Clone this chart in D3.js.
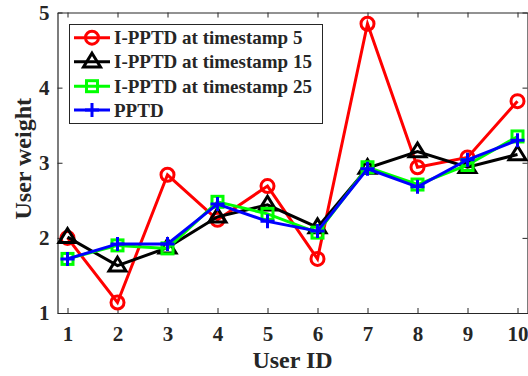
<!DOCTYPE html>
<html>
<head>
<meta charset="utf-8">
<script src="https://cdn.jsdelivr.net/npm/d3@7"></script>
<style>
  html, body { margin: 0; padding: 0; background: #fff; }
  svg { display: block; }
  text { font-family: "Liberation Serif", "Times New Roman", serif; font-weight: bold; fill: #262626; }
</style>
</head>
<body>
<svg id="chart" width="528" height="376"></svg>
<script>
// User IDs along the x axis
const userIds = [1, 2, 3, 4, 5, 6, 7, 8, 9, 10];

// Weight of each user for each method
const ipptd5  = [2.00, 1.14, 2.84, 2.24, 2.69, 1.72, 4.85, 2.94, 3.07, 3.82];
const ipptd15 = [2.01, 1.63, 1.87, 2.28, 2.44, 2.14, 2.93, 3.15, 2.94, 3.11];
const ipptd25 = [1.72, 1.90, 1.86, 2.48, 2.32, 2.07, 2.94, 2.71, 2.97, 3.35];
const pptd    = [1.72, 1.92, 1.92, 2.45, 2.22, 2.09, 2.92, 2.68, 3.04, 3.30];

const seriesNames = ["I-PPTD at timestamp 5", "I-PPTD at timestamp 15", "I-PPTD at timestamp 25", "PPTD"];
const seriesColors = ["#ff0000", "#000000", "#00ff00", "#0000ff"];
const seriesMarkers = ["circle", "triangle", "square", "plus"];
const seriesValues = [ipptd5, ipptd15, ipptd25, pptd];

const xTicks = userIds;
const yTicks = [1, 2, 3, 4, 5];

const svg = d3.select("#chart");
const plotL = 57.5, plotR = 527.5, plotT = 12.5, plotB = 313;

const x = d3.scaleLinear().domain([0.8, 10.2]).range([plotL, plotR]);
const y = d3.scaleLinear().domain([1, 5]).range([plotB, plotT]);
const axisColor = "#262626";

// Axes box with inward ticks on all four sides
const gx = svg.append("g").attr("transform", `translate(0,${plotB})`)
  .call(d3.axisBottom(x).tickValues(xTicks).tickSizeInner(-5).tickSizeOuter(0).tickPadding(13).tickFormat(d3.format("d")));
const gxt = svg.append("g").attr("transform", `translate(0,${plotT})`)
  .call(d3.axisTop(x).tickValues(xTicks).tickSizeInner(-5).tickSizeOuter(0).tickFormat(""));
const gy = svg.append("g").attr("transform", `translate(${plotL},0)`)
  .call(d3.axisLeft(y).tickValues(yTicks).tickSizeInner(-5).tickSizeOuter(0).tickPadding(8).tickFormat(d3.format("d")));
const gyr = svg.append("g").attr("transform", `translate(${plotR},0)`)
  .call(d3.axisRight(y).tickValues(yTicks).tickSizeInner(-5).tickSizeOuter(0).tickFormat(""));

[gx, gxt, gy, gyr].forEach(g => {
  g.select(".domain").attr("stroke", axisColor).attr("stroke-width", 1.2);
  g.selectAll(".tick line").attr("stroke", axisColor).attr("stroke-width", 1);
  g.selectAll(".tick text").attr("font-family", "Liberation Serif, serif")
    .attr("font-weight", "bold").attr("font-size", 21).attr("fill", axisColor);
});
gx.selectAll(".tick text").attr("dy", "0.71em");

// Axis titles
svg.append("text").attr("x", (plotL + plotR) / 2).attr("y", 368)
  .attr("text-anchor", "middle").attr("font-size", 24).text("User ID");
svg.append("text").attr("transform", `translate(31,${(plotT + plotB) / 2 - 4}) rotate(-90)`)
  .attr("text-anchor", "middle").attr("font-size", 24).text("User weight");

// Marker drawing helper
function drawMarker(g, type, cx, cy, color) {
  if (type === "circle") {
    g.append("circle").attr("cx", cx).attr("cy", cy).attr("r", 6.5)
      .attr("fill", "none").attr("stroke", color).attr("stroke-width", 3);
  } else if (type === "triangle") {
    const s = 8.5;
    g.append("path").attr("d", `M${cx},${cy - s}L${cx + s},${cy + s * 0.62}L${cx - s},${cy + s * 0.62}Z`)
      .attr("fill", "none").attr("stroke", color).attr("stroke-width", 3).attr("stroke-linejoin", "miter");
  } else if (type === "square") {
    const s = 5.5;
    g.append("rect").attr("x", cx - s).attr("y", cy - s).attr("width", 2 * s).attr("height", 2 * s)
      .attr("fill", "none").attr("stroke", color).attr("stroke-width", 3);
  } else if (type === "plus") {
    const s = 7;
    g.append("path").attr("d", `M${cx - s},${cy}H${cx + s}M${cx},${cy - s}V${cy + s}`)
      .attr("fill", "none").attr("stroke", color).attr("stroke-width", 3);
  }
}

// Series lines with markers
const line = d3.line().x((d, i) => x(userIds[i])).y(d => y(d));
seriesValues.forEach((vals, si) => {
  const g = svg.append("g");
  g.append("path").datum(vals).attr("d", line)
    .attr("fill", "none").attr("stroke", seriesColors[si]).attr("stroke-width", 3)
    .attr("stroke-linejoin", "miter");
  vals.forEach((v, i) => drawMarker(g, seriesMarkers[si], x(userIds[i]), y(v), seriesColors[si]));
});

// Legend
const lg = svg.append("g");
lg.append("rect").attr("x", 69.5).attr("y", 24.5).attr("width", 253).attr("height", 99)
  .attr("fill", "#fff").attr("stroke", "#262626").attr("stroke-width", 1);
const rowY = [37.7, 61.7, 86.2, 110];
seriesNames.forEach((name, i) => {
  lg.append("line").attr("x1", 74).attr("x2", 110).attr("y1", rowY[i]).attr("y2", rowY[i])
    .attr("stroke", seriesColors[i]).attr("stroke-width", 3);
  drawMarker(lg, seriesMarkers[i], 92, rowY[i], seriesColors[i]);
  lg.append("text").attr("x", 114).attr("y", rowY[i]).attr("dy", "0.35em")
    .attr("font-size", 19).attr("fill", "#000").text(name);
});
</script>
</body>
</html>
